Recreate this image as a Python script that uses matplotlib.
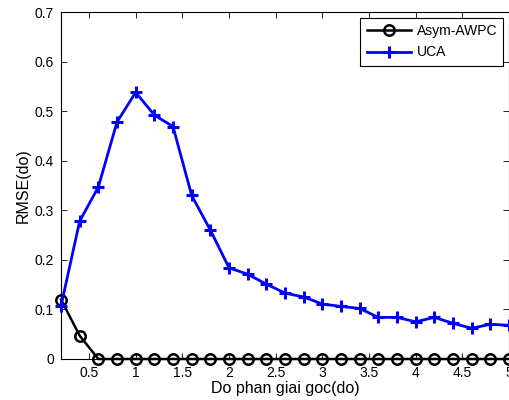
import matplotlib
matplotlib.use("Agg")
import matplotlib.pyplot as plt
import numpy as np

plt.rcParams['font.family'] = ['Liberation Sans', 'DejaVu Sans']

x_vals = [0.2, 0.4, 0.6, 0.8, 1.0, 1.2, 1.4, 1.6, 1.8, 2.0, 2.2, 2.4, 2.6, 2.8, 3.0,
          3.2, 3.4, 3.6, 3.8, 4.0, 4.2, 4.4, 4.6, 4.8, 5.0]
asym_awpc = [0.120, 0.047, 0.0, 0.0, 0.0, 0.0, 0.0, 0.0, 0.0, 0.0, 0.0, 0.0, 0.0, 0.0, 0.0,
             0.0, 0.0, 0.0, 0.0, 0.0, 0.0, 0.0, 0.0, 0.0, 0.0]
uca = [0.107, 0.278, 0.347, 0.478, 0.538, 0.492, 0.469, 0.330, 0.260, 0.184, 0.171, 0.151,
       0.133, 0.125, 0.111, 0.106, 0.102, 0.084, 0.084, 0.075, 0.084, 0.072, 0.062, 0.070, 0.068]
xticks = [0.5, 1, 1.5, 2, 2.5, 3, 3.5, 4, 4.5, 5]
xticklabels = ['0.5', '1', '1.5', '2', '2.5', '3', '3.5', '4', '4.5', '5']
yticks = [0, 0.1, 0.2, 0.3, 0.4, 0.5, 0.6, 0.7]
yticklabels = ['0', '0.1', '0.2', '0.3', '0.4', '0.5', '0.6', '0.7']

fig = plt.figure(figsize=(5.1, 4.0), dpi=100)
ax = fig.add_axes([61/510, 41/400, (509-61)/510, (359-12)/400])

ax.plot(x_vals, asym_awpc, color='black', lw=1.8, marker='o', markersize=7.5,
        markerfacecolor='none', markeredgewidth=1.8, label='Asym-AWPC', clip_on=False, zorder=3)
ax.plot(x_vals, uca, color='#0000ff', lw=2.0, marker='+', markersize=8.5,
        markeredgewidth=2.2, label='UCA', clip_on=False, zorder=4)

ax.set_xlim(0.2, 5)
ax.set_ylim(0, 0.7)
ax.set_xticks(xticks)
ax.set_xticklabels(xticklabels)
ax.set_yticks(yticks)
ax.set_yticklabels(yticklabels)
ax.tick_params(direction='in', top=True, right=True, labelsize=10, length=4, width=0.6, pad=5)
for s in ax.spines.values():
    s.set_linewidth(0.8)
ax.set_xlabel('Do phan giai goc(do)', fontsize=11.5, labelpad=1)
ax.set_ylabel('RMSE(do)', fontsize=11.5, labelpad=3)

leg = ax.legend(loc='upper right', fontsize=10, fancybox=False, framealpha=1,
                edgecolor='black', borderaxespad=0.4, handlelength=3.2,
                borderpad=0.45, labelspacing=0.55, handletextpad=0.4)
leg.get_frame().set_linewidth(0.8)

fig.savefig('out.png', dpi=100)
